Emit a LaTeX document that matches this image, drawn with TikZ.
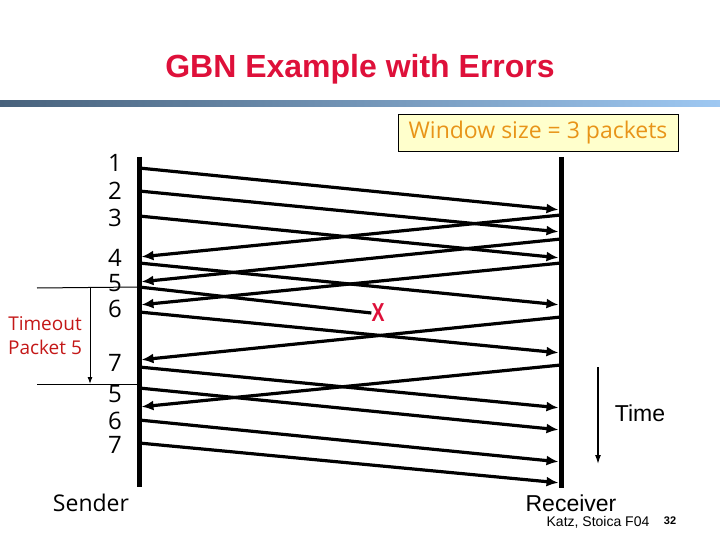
\documentclass[tikz,border=0pt]{standalone}
\usepackage{fontspec}
\setmainfont{Open Sans}
\newfontfamily\arialfont{Liberation Sans}
\usetikzlibrary{arrows.meta}
\definecolor{titlered}{RGB}{222,16,58}
\definecolor{darkred}{RGB}{196,24,24}
\definecolor{barleft}{RGB}{72,98,124}
\definecolor{barright}{RGB}{158,200,242}
\definecolor{winfill}{RGB}{255,255,204}
\definecolor{wintext}{RGB}{232,148,24}

\begin{document}
\begin{tikzpicture}
  [x=1pt,y=-1pt,every node/.style={inner sep=0pt},
   msg/.style={line width=3.2pt,-{Latex[length=12pt,width=10pt]},shorten >=2.5pt},
   timeline/.style={line width=5pt},
   seqnum/.style={font=\fontsize{24}{24}\selectfont},
   thin arrow/.style={line width=1.3pt,-{Latex[length=9pt,width=6pt]}}]
  \useasboundingbox (0,0) rectangle (720,540);

  % Titulo y barra
  \node[text=titlered,font=\arialfont\bfseries\fontsize{32}{32}\selectfont] (title) at (360,69) {GBN Example with Errors};
  \shade[left color=barleft,right color=barright] (0,101) rectangle (720,107);

  \node[draw=black,thick,fill=winfill,text=wintext,minimum width=280pt,minimum height=37pt,
        font=\fontsize{23}{23}\selectfont] (win) at (538,132.5) {Window size = 3 packets};

  % Lineas de tiempo
  \coordinate (stop) at (139,157);
  \coordinate (sbot) at (139,487);
  \coordinate (rtop) at (561,157);
  \coordinate (rbot) at (561,488);
  \draw[timeline] (stop) -- (sbot);
  \draw[timeline] (rtop) -- (rbot);

  % Numeros de secuencia
  \node[seqnum] (n1) at (115,163) {1};
  \node[seqnum] (n2) at (115,191) {2};
  \node[seqnum] (n3) at (115,218) {3};
  \node[seqnum] (n4) at (115,258) {4};
  \node[seqnum] (n5) at (115,283) {5};
  \node[seqnum] (n6) at (115,309) {6};
  \node[seqnum] (n7) at (115,363) {7};
  \node[seqnum] (m5) at (115,394) {5};
  \node[seqnum] (m6) at (115,421) {6};
  \node[seqnum] (m7) at (115,445) {7};

  % Puntos en el emisor
  \coordinate (s1) at (139,168);
  \coordinate (s2) at (139,191);
  \coordinate (s3) at (139,216);
  \coordinate (s4) at (139,263);
  \coordinate (s5) at (139,287);
  \coordinate (s6) at (139,312);
  \coordinate (s7) at (139,367);
  \coordinate (t5) at (139,388);
  \coordinate (t6) at (139,420);
  \coordinate (t7) at (139,443);
  % Puntos en el receptor
  \coordinate (r1) at (561,210);
  \coordinate (r2) at (561,232);
  \coordinate (r3) at (561,258);
  \coordinate (r4) at (561,305);
  \coordinate (r6) at (561,353);
  \coordinate (r7) at (561,408);
  \coordinate (q5) at (561,430);
  \coordinate (q6) at (561,462);
  \coordinate (q7) at (561,483);

  % Paquetes
  \draw[msg] (s1) -- (r1);
  \draw[msg] (s2) -- (r2);
  \draw[msg] (s3) -- (r3);
  \draw[msg] (s4) -- (r4);
  \node[text=titlered,font=\arialfont\bfseries\fontsize{26}{26}\selectfont,xscale=0.75] (lost) at (378,313) {X};
  \draw[line width=3.2pt] (s5) -- (lost.west);
  \draw[msg] (s6) -- (r6);
  \draw[msg] (s7) -- (r7);
  \draw[msg] (t5) -- (q5);
  \draw[msg] (t6) -- (q6);
  \draw[msg] (t7) -- (q7);

  % ACKs
  \coordinate (a1) at (561,215);
  \coordinate (a2) at (561,239);
  \coordinate (a3) at (561,263);
  \coordinate (a4) at (561,317);
  \coordinate (a5) at (561,365);
  \coordinate (b1) at (139,257);
  \coordinate (b2) at (139,282);
  \coordinate (b3) at (139,305);
  \coordinate (b4) at (139,360);
  \coordinate (b5) at (139,407);
  \draw[msg] (a1) -- (b1);
  \draw[msg] (a2) -- (b2);
  \draw[msg] (a3) -- (b3);
  \draw[msg] (a4) -- (b4);
  \draw[msg] (a5) -- (b5);

  % Timeout
  \coordinate (to1) at (37,288);
  \coordinate (to2) at (37,384);
  \coordinate (tv1) at (90,288);
  \coordinate (tv2) at (90,384);
  \draw[line width=1pt] (to1) -- (s5);
  \draw[line width=1pt] (to2) -- (t5 |- to2);
  \draw[line width=1pt,-{Latex[length=7pt,width=5pt]}] (tv1) -- (tv2);
  \node[text=darkred,font=\fontsize{19}{24}\selectfont,align=center] (tout) at (45,336) {Timeout\\Packet 5};

  % Tiempo
  \coordinate (time1) at (598,367);
  \coordinate (time2) at (598,464);
  \draw[thin arrow] (time1) -- (time2);
  \node[font=\arialfont\fontsize{23}{23}\selectfont] (time) at (640,413) {Time};

  % Etiquetas
  \node[font=\fontsize{23}{23}\selectfont] (sender) at (91,503) {Sender};
  \node[font=\arialfont\fontsize{23}{23}\selectfont] (receiver) at (571,503) {Receiver};
  \node[font=\arialfont\fontsize{14}{14}\selectfont] (credit) at (598,522) {Katz, Stoica F04};
  \node[font=\arialfont\bfseries\fontsize{11}{11}\selectfont] (page) at (670,521) {32};
\end{tikzpicture}
\end{document}
